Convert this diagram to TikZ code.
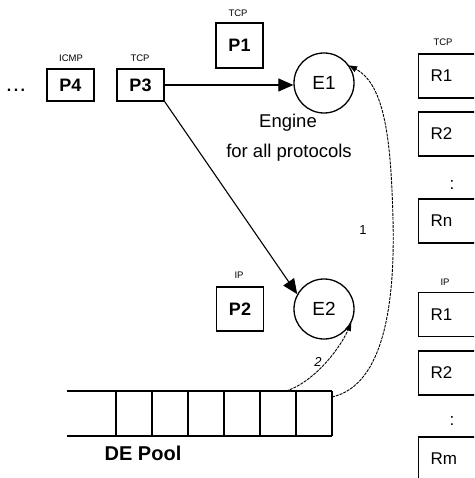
\documentclass[tikz,border=0pt]{standalone}
\usepackage{fontspec}
\setmainfont{Liberation Sans}
\usetikzlibrary{arrows.meta}
\begin{document}
\begin{tikzpicture}[x=1pt,y=-1pt,
  pbox/.style={draw, line width=1.5pt, inner sep=0pt, minimum width=47pt, font=\fontsize{18}{20}\selectfont\bfseries},
  ebox/.style={draw, circle, line width=1.3pt, inner sep=0pt, minimum size=60pt, font=\fontsize{19}{21}\selectfont},
  rbox/.style={draw, line width=1.4pt, anchor=west, minimum height=44pt, text width=46pt, inner xsep=12pt, align=left, font=\fontsize{17}{19}\selectfont},
  small/.style={font=\fontsize{9.5}{11}\selectfont, inner sep=0pt},
  txt/.style={font=\fontsize{18.5}{21}\selectfont, inner sep=0pt},
  main/.style={line width=1.1pt, -{Triangle[length=15pt,width=13pt]}},
  dline/.style={line width=0.9pt, dash pattern=on 3pt off 1pt, -{Triangle[length=8pt,width=6pt]}},
  pool/.style={line width=1.9pt}
]
\useasboundingbox (0,0) rectangle (474,478);
\clip (0,0) rectangle (474,478);

% packets
\node[pbox, minimum height=32pt] (P4) at (70.5,85) {P4};
\node[pbox, minimum height=32pt] (P3) at (140.5,85) {P3};
\node[pbox, minimum height=45pt] (P1) at (239.5,45.5) {P1};
\node[pbox, minimum height=44pt] (P2) at (240,309) {P2};
\node[small] (lP4) at (71,58) {ICMP};
\node[small] (lP3) at (140,58) {TCP};
\node[small] (lP1) at (238,13) {TCP};
\node[small] (lP2) at (239,275) {IP};
\node[inner sep=0pt, anchor=base, font=\fontsize{16}{18}\selectfont\bfseries] (dots) at (16,92) {.\hspace{2.5pt}.\hspace{2.5pt}.};

% engines
\node[ebox] (E1) at (324,83) {E1};
\node[ebox] (E2) at (324,309) {E2};
\node[txt] (eng1) at (288,123) {Engine};
\node[txt] (eng2) at (289,153) {for all protocols};

% arrows
\draw[main] (P3.east) -- (P3.east -| E1.west);
\draw[main] (P3.south east) -- (E2.151);

% pool
\draw[pool] (67,391) -- (332,391) (67,436) -- (332,436);
\foreach \xx in {116,152,188,224,260,296,332}
  \draw[pool] (\xx,391) -- (\xx,436);
\node[font=\fontsize{20}{22}\selectfont\bfseries, inner sep=0pt] (pooltxt) at (143,453) {DE Pool};
\coordinate (poolT) at (286,391);
\coordinate (poolR) at (332,397);

% dispatch curves
\draw[dline] (poolT) .. controls (312,383) and (338,352) .. (E2.333);
\draw[dline] (poolR) .. controls (385,385) and (395,300) .. (393,220)
  .. controls (391,140) and (385,85) .. (E1.35);
\node[font=\fontsize{13}{15}\selectfont, inner sep=0pt] (n1) at (363,230) {1};
\node[font=\fontsize{13}{15}\selectfont\itshape, inner sep=0pt] (n2) at (318,362) {2};

% right column
\node[small] (lRT) at (443,42) {TCP};
\node[rbox] (RT1) at (418,76) {R1};
\node[rbox] (RT2) at (418,134) {R2};
\node[font=\fontsize{17}{19}\selectfont, inner sep=0pt] (cT) at (452,185) {:};
\node[rbox] (RTn) at (418,221) {Rn};
\node[small] (lRI) at (445,282) {IP};
\node[rbox] (RI1) at (418,314.5) {R1};
\node[rbox] (RI2) at (418,373) {R2};
\node[font=\fontsize{17}{19}\selectfont, inner sep=0pt] (cI) at (452,421) {:};
\node[rbox] (RIm) at (418,459) {Rm};
\end{tikzpicture}
\end{document}
